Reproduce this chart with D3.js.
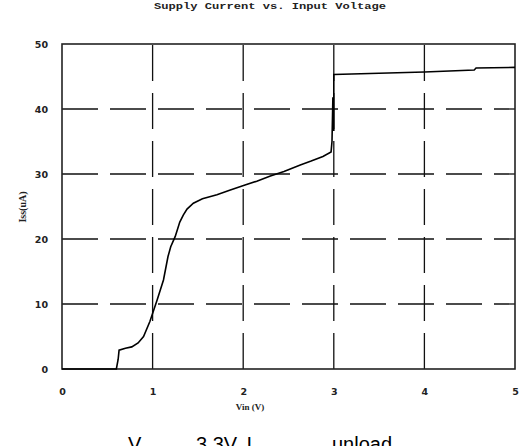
<!DOCTYPE html>
<meta charset="utf-8">
<script src="https://d3js.org/d3.v7.min.js"></script>
<style>
body { margin: 0; background: #fff; }
svg { display: block; }
.tick text { font-family: "DejaVu Sans", sans-serif; font-size: 9.5px; font-weight: bold; fill: #222; }
.axis path, .axis line { display: none; }
.grid line { stroke: #111; stroke-width: 1.3px; stroke-dasharray: 36 12; }
</style>
<body>
<script>

// data: Vin (V) and Iss (uA)
var vin = [0, 0.60, 0.62, 0.63, 0.70, 0.77, 0.84, 0.90, 0.97, 1.05, 1.12, 1.17, 1.20, 1.25, 1.30, 1.34, 1.38, 1.45, 1.55, 1.71, 1.85, 2.02, 2.15, 2.30, 2.45, 2.63, 2.75, 2.88, 2.97, 2.98, 2.99, 2.995, 3.0, 3.0, 3.0, 3.5, 4.0, 4.55, 4.57, 5.0];
var iss = [0, 0, 1.5, 2.9, 3.2, 3.4, 4.0, 5.0, 7.3, 10.6, 13.7, 17.3, 18.8, 20.4, 22.6, 23.7, 24.6, 25.5, 26.2, 26.8, 27.5, 28.3, 28.9, 29.7, 30.4, 31.4, 32.0, 32.7, 33.4, 35.0, 41.8, 36.8, 41.6, 36.6, 45.3, 45.5, 45.7, 46.0, 46.3, 46.4];

var xTicks = [0, 1, 2, 3, 4, 5];
var yTicks = [0, 10, 20, 30, 40, 50];

var title = "Supply Current vs. Input Voltage";
var xLabel = "Vin (V)";
var yLabel = "Iss(uA)";

var W = 519, H = 446;
var svg = d3.select("body").append("svg")
    .attr("width", W)
    .attr("height", H);

var x = d3.scaleLinear().domain([0, 5]).range([62, 515]);
var y = d3.scaleLinear().domain([0, 50]).range([369, 44]);

// dashed grid, verticals drawn bottom-up so the dash starts at the axis
svg.append("g").attr("class", "grid")
  .selectAll("line.v")
  .data(xTicks.slice(1, -1))
  .enter().append("line")
    .attr("x1", function(d) { return x(d); })
    .attr("x2", function(d) { return x(d); })
    .attr("y1", y(0))
    .attr("y2", y(50));

svg.append("g").attr("class", "grid")
  .selectAll("line.h")
  .data(yTicks.slice(1, -1))
  .enter().append("line")
    .attr("x1", x(0))
    .attr("x2", x(5))
    .attr("y1", function(d) { return y(d); })
    .attr("y2", function(d) { return y(d); });

// frame
svg.append("rect")
    .attr("x", x(0))
    .attr("y", y(50))
    .attr("width", x(5) - x(0))
    .attr("height", y(0) - y(50))
    .attr("fill", "none")
    .attr("stroke", "#222")
    .attr("stroke-width", 1.6);

// curve
var pts = vin.map(function(v, i) { return [v, iss[i]]; });
var line = d3.line()
    .x(function(d) { return x(d[0]); })
    .y(function(d) { return y(d[1]); });

svg.append("path")
    .datum(pts)
    .attr("d", line)
    .attr("fill", "none")
    .attr("stroke", "#000")
    .attr("stroke-width", 1.6);

// axes
svg.append("g")
    .attr("class", "axis")
    .attr("transform", "translate(0," + (y(0) + 16) + ")")
    .call(d3.axisBottom(x).tickValues(xTicks).tickSize(0).tickFormat(d3.format("d")));

svg.append("g")
    .attr("class", "axis")
    .attr("transform", "translate(" + (x(0) - 11) + ",0)")
    .call(d3.axisLeft(y).tickValues(yTicks).tickSize(0).tickFormat(d3.format("d")));

// title
svg.append("text")
    .attr("x", 270)
    .attr("y", 9)
    .attr("text-anchor", "middle")
    .attr("textLength", 232)
    .attr("lengthAdjust", "spacingAndGlyphs")
    .style("font-family", "'Liberation Mono', monospace")
    .style("font-weight", "bold")
    .style("font-size", "9px")
    .style("fill", "#222")
    .text(title);

svg.append("text")
    .attr("x", 250)
    .attr("y", 410)
    .attr("text-anchor", "middle")
    .style("font-family", "'Liberation Serif', serif")
    .style("font-weight", "bold")
    .style("font-size", "9px")
    .style("fill", "#222")
    .text(xLabel);

svg.append("text")
    .attr("transform", "translate(26,207) rotate(-90)")
    .attr("text-anchor", "middle")
    .style("font-family", "'Liberation Serif', serif")
    .style("font-weight", "bold")
    .style("font-size", "10px")
    .style("fill", "#222")
    .text(yLabel);

// caption, cut off by the bottom edge like in the original
var cap = svg.append("text")
    .attr("y", 451)
    .style("font-family", "'Liberation Sans', Arial, sans-serif")
    .style("font-size", "20px")
    .style("fill", "#000");
cap.append("tspan").attr("x", 128).text("V");
cap.append("tspan").attr("x", 142).attr("dy", 6).style("font-size", "13px").text("DD =");
cap.append("tspan").attr("x", 196).attr("dy", -6).text("3.3V, I");
cap.append("tspan").attr("x", 256).attr("dy", 6).style("font-size", "13px").text("OUT =");
cap.append("tspan").attr("x", 332).attr("dy", -6).text("unload");

</script>
</body>
